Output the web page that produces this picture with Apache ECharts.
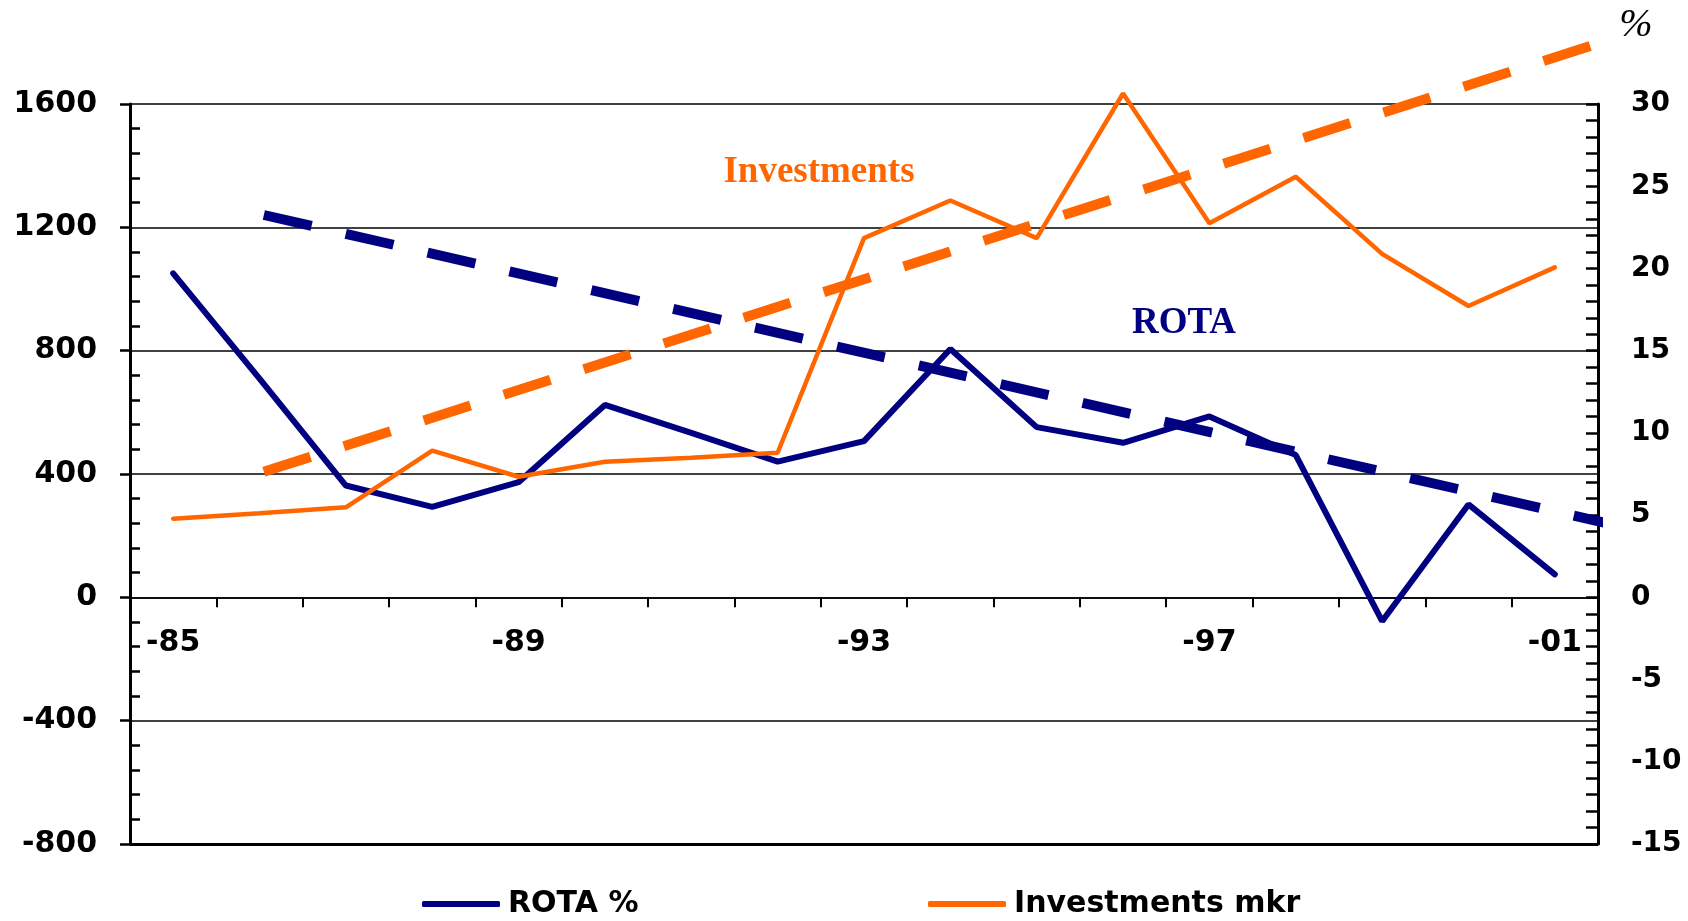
<!DOCTYPE html>
<html>
<head>
<meta charset="utf-8">
<script src="https://cdn.jsdelivr.net/npm/echarts@6/dist/echarts.min.js"></script>
<style>
  html, body { margin: 0; padding: 0; background: #fff; }
  #chart { width: 1688px; height: 921px; }
</style>
</head>
<body>
<div id="chart"></div>
<script>
// years 1985..2001, shown as -85 .. -01
const years = ['-85', '-86', '-87', '-88', '-89', '-90', '-91', '-92', '-93',
               '-94', '-95', '-96', '-97', '-98', '-99', '-00', '-01'];
// ROTA %, right axis
const rota = [19.7, 13.3, 6.8, 5.5, 7.0, 11.7, 10.0, 8.25, 9.5,
              15.1, 10.35, 9.4, 11.0, 8.65, -1.45, 5.65, 1.4];
// Investments mkr, left axis
const investments = [255, 273, 292, 476, 391, 440, 453, 469, 1165,
                     1287, 1165, 1634, 1213, 1364, 1114, 945, 1070];
// dashed trend lines: [category position, value]
const rotaTrend = [[1.05, 23.25], [16.8, 4.27]];
const investTrend = [[1.05, 407], [16.8, 1823]];
// axis ranges [min, max, step]
const leftRange = [-800, 1600, 400];
const rightRange = [-15, 30, 5];

const NAVY = '#000080';
const ORANGE = '#FF6600';
const labelFont = { fontFamily: 'DejaVu Sans', fontWeight: 'bold', color: '#000' };

// grid box, used to put the category axis on the zero line
const gridTop = 104, gridBottom = 77, chartH = 921;
const gridH = chartH - gridTop - gridBottom;
const zeroShift = gridH * (0 - leftRange[0]) / (leftRange[1] - leftRange[0]);

const chart = echarts.init(document.getElementById('chart'), null, { renderer: 'canvas' });

chart.setOption({
  backgroundColor: '#fff',
  animation: false,
  grid: { left: 130, right: 90, top: gridTop, bottom: gridBottom, containLabel: false },
  legend: [
    {
      data: ['ROTA %'], left: 422, top: 889, padding: 0,
      icon: 'roundRect', itemWidth: 78, itemHeight: 6,
      textStyle: { ...labelFont, fontSize: 30, padding: [0, 0, 0, 3] }
    },
    {
      data: ['Investments mkr'], left: 928, top: 889, padding: 0,
      icon: 'roundRect', itemWidth: 78, itemHeight: 6,
      textStyle: { ...labelFont, fontSize: 30, padding: [0, 0, 0, 3] }
    }
  ],
  xAxis: [
    {
      type: 'category',
      data: years,
      position: 'bottom',
      offset: -zeroShift,
      boundaryGap: true,
      axisLine: { show: true, onZero: false, lineStyle: { color: '#000', width: 1.5 } },
      axisTick: { show: true, interval: 0, length: 10, lineStyle: { color: '#000', width: 2 } },
      axisLabel: { interval: 3, margin: 31, fontSize: 30, ...labelFont },
      splitLine: { show: false }
    },
    {
      // hidden value axis so the trend lines can run between categories
      type: 'value', min: -0.5, max: 16.5, position: 'top',
      axisLine: { show: false, onZero: false }, axisTick: { show: false },
      axisLabel: { show: false }, splitLine: { show: false }
    }
  ],
  yAxis: [
    {
      type: 'value', position: 'left',
      min: leftRange[0], max: leftRange[1], interval: leftRange[2],
      axisLine: { show: true, onZero: false, lineStyle: { color: '#000', width: 3 } },
      axisTick: { show: true, length: 10, lineStyle: { color: '#000', width: 2.5 } },
      minorTick: { show: true, splitNumber: 5, length: -10, lineStyle: { color: '#000', width: 2.5 } },
      splitLine: { show: true, lineStyle: { color: '#000', width: 1.5 } },
      axisLabel: { margin: 33, fontSize: 30, ...labelFont, formatter: v => String(v) }
    },
    {
      type: 'value', position: 'right',
      min: rightRange[0], max: rightRange[1], interval: rightRange[2],
      axisLine: { show: true, onZero: false, lineStyle: { color: '#000', width: 3 } },
      axisTick: { show: true, inside: true, length: 12, lineStyle: { color: '#000', width: 2.5 } },
      minorTick: { show: true, splitNumber: 5, length: 12, lineStyle: { color: '#000', width: 2.5 } },
      splitLine: { show: false },
      axisLabel: { margin: 33, fontSize: 28, ...labelFont, formatter: v => String(v) }
    }
  ],
  series: [
    {
      name: 'ROTA trend', type: 'line', xAxisIndex: 1, yAxisIndex: 1,
      data: rotaTrend, symbol: 'none', clip: false, silent: true, z: 2,
      lineStyle: { color: NAVY, width: 10, type: [49, 35], cap: 'butt' }
    },
    {
      name: 'Investments trend', type: 'line', xAxisIndex: 1, yAxisIndex: 0,
      data: investTrend, symbol: 'none', clip: false, silent: true, z: 2,
      lineStyle: { color: ORANGE, width: 10, type: [49, 35], cap: 'butt' }
    },
    {
      name: 'ROTA %', type: 'line', xAxisIndex: 0, yAxisIndex: 1,
      data: rota, symbol: 'none', color: NAVY, z: 3, clip: false,
      itemStyle: { color: NAVY },
      lineStyle: { color: NAVY, width: 6, cap: 'round' }
    },
    {
      name: 'Investments mkr', type: 'line', xAxisIndex: 0, yAxisIndex: 0,
      data: investments, symbol: 'none', color: ORANGE, z: 3, clip: false,
      itemStyle: { color: ORANGE },
      lineStyle: { color: ORANGE, width: 4.5, cap: 'round' },
      markLine: {
        silent: true, symbol: 'none', label: { show: false },
        lineStyle: { color: '#000', width: 3, type: 'solid' },
        data: [{ yAxis: leftRange[0] }]
      }
    }
  ],
  graphic: [
    {
      type: 'text', x: 819, y: 172, z: 10,
      style: { text: 'Investments', fill: ORANGE, font: 'bold 37px "Liberation Serif"', align: 'center', verticalAlign: 'middle' }
    },
    {
      type: 'text', x: 1184, y: 323, z: 10,
      style: { text: 'ROTA', fill: NAVY, font: 'bold 37px "Liberation Serif"', align: 'center', verticalAlign: 'middle' }
    },
    {
      type: 'text', x: 1636, y: 25, z: 10,
      style: { text: '%', fill: '#000', font: 'italic 40px "Liberation Serif"', align: 'center', verticalAlign: 'middle' }
    }
  ]
});
</script>
</body>
</html>
